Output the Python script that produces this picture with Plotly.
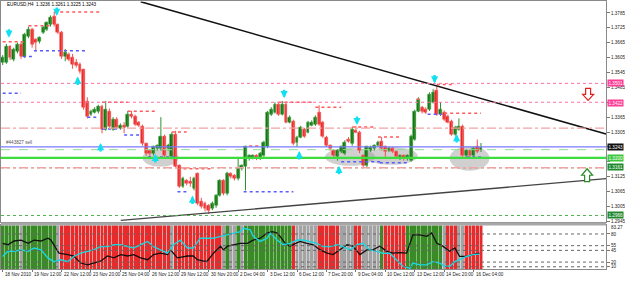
import plotly.graph_objects as go

# ---------------- data ----------------
open_ = [
1.3585,1.3585,1.3649,1.3597,1.3629,1.3657,1.3609,1.3689,1.3717,1.3677,
1.3669,1.3705,1.3717,1.3737,1.3769,1.3737,1.3705,1.3609,1.3617,1.3605,
1.3585,1.3577,1.3557,1.3429,1.3377,1.3385,1.3389,1.3409,1.3317,1.3389,
1.3317,1.3357,1.3321,1.3333,1.3329,1.3377,1.3369,1.3345,1.3329,1.3257,
1.3229,1.3217,1.3237,1.3237,1.3289,1.3237,1.3205,1.3297,1.3169,1.3085,
1.3109,1.3105,1.3077,1.3137,1.3025,1.3017,1.3009,1.2997,1.3009,1.3049,
1.3109,1.3057,1.3137,1.3129,1.3117,1.3157,1.3165,1.3197,1.3201,1.3209,
1.3197,1.3209,1.3245,1.3377,1.3385,1.3417,1.3377,1.3417,1.3345,1.3349,
1.3265,1.3285,1.3317,1.3305,1.3333,1.3337,1.3385,1.3345,1.3285,1.3249,
1.3229,1.3205,1.3225,1.3217,1.3277,1.3257,1.3313,1.3305,1.3209,1.3169,
1.3229,1.3237,1.3249,1.3269,1.3245,1.3229,1.3237,1.3225,1.3197,1.3209,
1.3197,1.3189,1.3277,1.3389,1.3405,1.3397,1.3397,1.3425,1.3473,1.3377,
1.3385,1.3369,1.3349,1.3297,1.3317,1.3329,1.3209,1.3229,1.3209,1.3245,
1.3236]
close = [
1.3605,1.3649,1.3605,1.3637,1.3657,1.3609,1.3697,1.3717,1.3657,1.3665,
1.3685,1.3725,1.3745,1.3765,1.3737,1.3705,1.3609,1.3625,1.3597,1.3577,
1.3573,1.3549,1.3405,1.3369,1.3389,1.3397,1.3409,1.3317,1.3397,1.3329,
1.3357,1.3325,1.3333,1.3325,1.3377,1.3369,1.3337,1.3333,1.3257,1.3217,
1.3217,1.3245,1.3249,1.3289,1.3209,1.3249,1.3297,1.3165,1.3085,1.3117,
1.3097,1.3097,1.3117,1.3017,1.3005,1.2997,1.2989,1.3017,1.3049,1.3109,
1.3057,1.3137,1.3125,1.3117,1.3157,1.3169,1.3245,1.3209,1.3209,1.3197,
1.3217,1.3265,1.3385,1.3397,1.3417,1.3377,1.3417,1.3345,1.3365,1.3257,
1.3285,1.3325,1.3289,1.3345,1.3345,1.3365,1.3337,1.3289,1.3249,1.3237,
1.3209,1.3229,1.3245,1.3265,1.3269,1.3317,1.3305,1.3229,1.3169,1.3245,
1.3241,1.3249,1.3265,1.3237,1.3225,1.3237,1.3225,1.3205,1.3209,1.3197,
1.3209,1.3289,1.3389,1.3437,1.3389,1.3385,1.3457,1.3465,1.3377,1.3397,
1.3357,1.3345,1.3297,1.3325,1.3329,1.3209,1.3229,1.3209,1.3237,1.3225,
1.3243]
high = [
1.3615,1.3660,1.3655,1.3645,1.3665,1.3668,1.3705,1.3730,1.3725,1.3683,
1.3690,1.3733,1.3750,1.3775,1.3789,1.3742,1.3712,1.3640,1.3625,1.3620,
1.3600,1.3585,1.3560,1.3445,1.3395,1.3405,1.3415,1.3415,1.3430,1.3400,
1.3365,1.3365,1.3340,1.3345,1.3390,1.3390,1.3375,1.3350,1.3335,1.3262,
1.3237,1.3250,1.3255,1.3365,1.3295,1.3258,1.3305,1.3310,1.3175,1.3125,
1.3115,1.3125,1.3125,1.3142,1.3040,1.3025,1.3015,1.3025,1.3055,1.3115,
1.3115,1.3145,1.3142,1.3135,1.3205,1.3175,1.3250,1.3215,1.3215,1.3215,
1.3225,1.3270,1.3390,1.3405,1.3425,1.3425,1.3430,1.3422,1.3372,1.3355,
1.3290,1.3330,1.3322,1.3350,1.3352,1.3372,1.3413,1.3350,1.3290,1.3255,
1.3235,1.3235,1.3250,1.3272,1.3285,1.3325,1.3330,1.3310,1.3215,1.3250,
1.3250,1.3255,1.3270,1.3285,1.3250,1.3245,1.3245,1.3230,1.3215,1.3215,
1.3215,1.3295,1.3395,1.3445,1.3410,1.3405,1.3465,1.3478,1.3490,1.3425,
1.3392,1.3375,1.3355,1.3330,1.3360,1.3335,1.3235,1.3235,1.3245,1.3275,
1.3261]
low = [
1.3575,1.3580,1.3595,1.3590,1.3622,1.3600,1.3603,1.3683,1.3645,1.3630,
1.3662,1.3700,1.3712,1.3730,1.3730,1.3700,1.3600,1.3590,1.3590,1.3560,
1.3565,1.3540,1.3395,1.3360,1.3370,1.3380,1.3380,1.3300,1.3310,1.3320,
1.3310,1.3318,1.3315,1.3300,1.3322,1.3360,1.3330,1.3325,1.3250,1.3210,
1.3205,1.3210,1.3230,1.3230,1.3200,1.3230,1.3195,1.3160,1.3080,1.3080,
1.3090,1.3085,1.3070,1.3010,1.2997,1.2985,1.2975,1.2990,1.3000,1.3045,
1.3050,1.3050,1.3118,1.3110,1.3110,1.3150,1.3070,1.3190,1.3195,1.3192,
1.3192,1.3205,1.3240,1.3370,1.3380,1.3370,1.3372,1.3340,1.3340,1.3252,
1.3245,1.3280,1.3282,1.3300,1.3328,1.3330,1.3330,1.3282,1.3245,1.3230,
1.3200,1.3190,1.3220,1.3212,1.3262,1.3250,1.3300,1.3220,1.3160,1.3160,
1.3225,1.3230,1.3245,1.3230,1.3205,1.3225,1.3220,1.3200,1.3192,1.3190,
1.3190,1.3185,1.3270,1.3385,1.3380,1.3378,1.3390,1.3420,1.3370,1.3370,
1.3350,1.3340,1.3290,1.3290,1.3310,1.3205,1.3205,1.3200,1.3202,1.3220,
1.3225]

time_labels = ["18 Nov 2010", "19 Nov 12:00", "22 Nov 12:00", "23 Nov 20:00", "25 Nov 04:00",
               "26 Nov 12:00", "29 Nov 12:00", "30 Nov 20:00", "2 Dec 04:00", "3 Dec 12:00",
               "6 Dec 12:00", "7 Dec 20:00", "9 Dec 04:00", "10 Dec 12:00", "13 Dec 12:00",
               "14 Dec 20:00", "16 Dec 04:00"]
time_label_bars = [0, 8, 16, 24, 32, 40, 48, 56, 64, 72, 80, 88, 96, 104, 112, 120, 128]

price_ticks = [1.3785, 1.3725, 1.3665, 1.3605, 1.3545, 1.3485, 1.3425, 1.3365, 1.3305,
               1.3245, 1.3185, 1.3125, 1.3065, 1.3005, 1.2945]
price_tick_text = ["1.3785", "1.3725", "1.3665", "1.3605", "1.3545", "1.3485", "", "1.3365",
                   "1.3305", "", "", "1.3125", "1.3065", "1.3005", "1.2945"]

# trend lines (bar index, price)
upper_trend_x = [37.5, 164.0]
upper_trend_p = [1.3830, 1.3297]
lower_trend_x = [32.1, 164.0]
lower_trend_p = [1.2949, 1.3117]

# horizontal levels
level_prices = [1.3501, 1.3425, 1.3321, 1.3245, 1.3234, 1.3201, 1.3161, 1.3161, 1.2969]
level_kinds = ["pink", "pink", "salmon", "blue", "lgreen", "green", "gdot", "salmon", "gdot"]

# right-axis price boxes
box_prices = [1.3501, 1.3422, 1.3245, 1.3201, 1.3166, 1.2969]
box_texts = ["1.3501", "1.3422", "1.3243", "1.3200", "1.3161", "1.2966"]
box_kinds = ["pink", "pink", "black", "green", "dgreen", "dgreen"]

# resistance (red dotted) / support (blue dotted) segments
res_x0 = [14, 7, 0, 27, 34, 46, 47.5, 67, 75, 85, 95, 102, 112.5, 120, 118]
res_x1 = [27, 13, 6, 34, 42, 50, 56.5, 70, 84, 92, 101, 108, 114, 130, 123]
res_p = [1.3789, 1.3733, 1.3669, 1.3425, 1.3389, 1.3305, 1.3157, 1.3249, 1.3425, 1.3405,
         1.3325, 1.3285, 1.3437, 1.3381, 1.3497]
sup_x0 = [8.5, 5.5, 0, 23, 27, 33, 39.5, 47.5, 65.5, 92, 102.5, 115.5, 126]
sup_x1 = [23, 8.2, 5, 26, 32, 37.5, 47.5, 50, 79, 103, 110.5, 119.5, 130]
sup_p = [1.3633, 1.3609, 1.3461, 1.3365, 1.3317, 1.3293, 1.3205, 1.3065, 1.3065, 1.3185,
         1.3181, 1.3377, 1.3205]

# cyan signal arrows (tip positions)
down_x = [1.7, 14.7, 76.5, 96.3, 117.4]
down_p = [1.3685, 1.3773, 1.3441, 1.3333, 1.3501]
up_x = [20.4, 26.6, 41.5, 51.6, 80.6, 91.4, 123.4]
up_p = [1.3529, 1.3261, 1.3217, 1.3049, 1.3229, 1.3169, 1.3297]

# grey ellipses (x0, x1, p0, p1)
ell_x0 = [38.0, 87.6, 98.4, 121.5]
ell_x1 = [47.8, 101.2, 112.8, 132.3]
ell_p0 = [1.3165, 1.3169, 1.3173, 1.3149]
ell_p1 = [1.3237, 1.3241, 1.3245, 1.3249]

# indicator window
state = list("GGGGG" + "N" + "GGGGGGGGG" + "N" + "R" * 30 + "N" + "R" * 13 + "N" + "G" + "NN" + "G" + "N"
             + "G" * 13 + "R" + "N" * 6 + "R" * 6 + "N" * 4 + "RR" + "N" * 5 + "G" + "R" * 6
             + "G" * 10 + "N" + "RRR" + "NN" + "R" * 5)
black_x = [0, 1.4, 3.1, 5, 6.9, 8.5, 10.4, 12.3, 13.1, 13.9, 15.3, 17.7, 19.3, 21.2, 23.1, 24.7, 26.6,
           28.5, 30.2, 32.1, 34, 35.6, 37.5, 39.4, 41, 42.9, 44.8, 45.6, 47.5, 50.2, 51.8, 52.9, 54.6,
           55.6, 57.3, 59.2, 60, 61.1, 62.7, 64.6, 66.5, 68.1, 70, 71.9, 73.3, 74.6, 75.4, 76.8, 78.1,
           79.5, 80.8, 82.7, 84.4, 86.3, 88.2, 89.8, 91.7, 93.6, 95.2, 97.1, 99, 100.6, 102.5, 104.4,
           106, 107.9, 109.8, 111.5, 113.4, 115.3, 116.6, 118, 119.6, 121.5, 122.9, 124.2, 126.1,
           127.7, 129.6]
black_v = [60, 57, 65, 67, 60, 67, 65, 71, 67, 57, 39, 36, 33, 18, 14, 18, 22, 33, 29, 36, 33, 36, 29,
           25, 36, 39, 36, 46, 29, 33, 33, 25, 22, 22, 39, 54, 46, 54, 57, 60, 60, 67, 71, 82, 85, 82,
           75, 60, 54, 60, 64, 60, 57, 46, 39, 36, 46, 57, 54, 36, 46, 46, 54, 43, 39, 40, 39, 78, 78,
           75, 82, 60, 54, 43, 50, 32, 32, 36, 39]
cyan_x = [0, 1.4, 3.1, 5, 6.9, 8.5, 10.4, 12.3, 13.9, 15.8, 17.7, 19.3, 21.2, 23.1, 24.7, 26.6, 28.5,
          30.2, 32.1, 34, 35.6, 37.5, 39.4, 41, 42.9, 44.8, 46.4, 48.3, 50.2, 51.8, 53.7, 55.6, 57.3,
          59.2, 61.1, 62.7, 64.6, 65.4, 67.3, 68.1, 70, 71.9, 72.7, 74.6, 76.2, 78.1, 80, 81.7, 83.6,
          85.4, 87.1, 89, 90.9, 92.5, 94.4, 96.3, 97.9, 99.8, 101.7, 103.3, 105.2, 107.1, 108.8,
          110.7, 111.5, 113.4, 115.3, 116.9, 118.8, 120.1, 121.5, 122.9, 124.7, 126.1, 127.7, 129.6]
cyan_v = [32, 43, 43, 46, 43, 50, 46, 29, 21, 25, 21, 32, 39, 43, 46, 53, 53, 57, 57, 53, 50, 57, 64,
          53, 46, 39, 57, 67, 50, 50, 71, 71, 71, 75, 78, 82, 85, 92, 89, 75, 64, 71, 82, 67, 57, 60,
          67, 67, 64, 60, 53, 53, 57, 53, 46, 57, 60, 46, 43, 39, 39, 25, 11, 7, 18, 14, 14, 21, 18,
          11, 11, 21, 28, 32, 36, 37]
ind_levels = [80, 55, 45, 20, 10]
ind_level_text = ["80", "55", "45", "20", "10"]
ind_top_text = "83.27"

# ---------------- geometry ----------------
W, H = 625, 282
def py(px):
    return (H - px) / H

XR = [-0.46, 164.0]
XD = [0, 607 / W]
Y_MAIN = [1.2943, 1.3831]
Y_IND = [5.1, 98.3]
FONT = "Liberation Sans"
FS = 4.6

fig = go.Figure()

n = len(open_)
idx = list(range(n))
up = [i for i in idx if close[i] >= open_[i]]
dn = [i for i in idx if close[i] < open_[i]]

def wick_xy(ids):
    xs, ys = [], []
    for i in ids:
        xs += [i, i, None]
        ys += [low[i], high[i], None]
    return xs, ys

for ids, wc in ((up, "#2f8f2f"), (dn, "#f05050")):
    wx, wy = wick_xy(ids)
    fig.add_trace(go.Scatter(x=wx, y=wy, mode="lines", line=dict(color=wc, width=1),
                             hoverinfo="skip", showlegend=False))

fig.add_trace(go.Bar(x=up, y=[close[i] - open_[i] for i in up], base=[open_[i] for i in up],
                     width=0.78, marker=dict(color="#127012", line=dict(color="#3da03d", width=0.6)),
                     hoverinfo="skip", showlegend=False))
fig.add_trace(go.Bar(x=dn, y=[open_[i] - close[i] for i in dn], base=[close[i] for i in dn],
                     width=0.78, marker=dict(color="#ec2424", line=dict(color="#f25a5a", width=0.6)),
                     hoverinfo="skip", showlegend=False))

def segs(x0, x1, p):
    xs, ys = [], []
    for a, b, c in zip(x0, x1, p):
        xs += [a, b, None]
        ys += [c, c, None]
    return xs, ys

sx, sy = segs(res_x0, res_x1, res_p)
fig.add_trace(go.Scatter(x=sx, y=sy, mode="lines", line=dict(color="#ff5a5a", width=1.5, dash="dot"),
                         hoverinfo="skip", showlegend=False))
sx, sy = segs(sup_x0, sup_x1, sup_p)
fig.add_trace(go.Scatter(x=sx, y=sy, mode="lines", line=dict(color="#5a5aff", width=1.5, dash="dot"),
                         hoverinfo="skip", showlegend=False))

fig.add_trace(go.Scatter(x=upper_trend_x, y=upper_trend_p, mode="lines",
                         line=dict(color="#111111", width=1.6), hoverinfo="skip", showlegend=False))
fig.add_trace(go.Scatter(x=lower_trend_x, y=lower_trend_p, mode="lines",
                         line=dict(color="#444444", width=1.3), hoverinfo="skip", showlegend=False))

# indicator
scol = {"G": ("#7fbf6f", "#3a8a28"), "R": ("#f59a9a", "#e82a2a"), "N": ("#cfcfcf", "#a3a3a3")}
fig.add_trace(go.Bar(x=idx, y=[Y_IND[1] - Y_IND[0]] * n, base=Y_IND[0], width=1.0,
                     marker=dict(color=[scol[s][0] for s in state], line=dict(width=0)),
                     xaxis="x2", yaxis="y2", hoverinfo="skip", showlegend=False))
fig.add_trace(go.Bar(x=idx, y=[Y_IND[1] - Y_IND[0]] * n, base=Y_IND[0], width=0.78,
                     marker=dict(color=[scol[s][1] for s in state], line=dict(width=0)),
                     xaxis="x2", yaxis="y2", hoverinfo="skip", showlegend=False))
fig.add_trace(go.Scatter(x=black_x, y=black_v, mode="lines", line=dict(color="#111111", width=1.3),
                         xaxis="x2", yaxis="y2", hoverinfo="skip", showlegend=False))
fig.add_trace(go.Scatter(x=cyan_x, y=cyan_v, mode="lines", line=dict(color="#1ad6e0", width=1.4),
                         xaxis="x2", yaxis="y2", hoverinfo="skip", showlegend=False))

shapes = []
for a, b, c, d in zip(ell_x0, ell_x1, ell_p0, ell_p1):
    shapes.append(dict(type="circle", xref="x", yref="y", x0=a, x1=b, y0=c, y1=d,
                       fillcolor="rgba(150,150,150,0.45)", line=dict(width=0), layer="below"))
lstyle = {
    "pink": dict(color="#ff6fa8", width=1, dash="dot"),
    "salmon": dict(color="#f3a3a3", width=1.4, dash="dashdot"),
    "blue": dict(color="#7a7aff", width=1.3),
    "lgreen": dict(color="#8fdc8f", width=1, dash="dash"),
    "green": dict(color="#3ddc3d", width=2.2),
    "gdot": dict(color="#4caf4c", width=1, dash="dot"),
}
for p, k in zip(level_prices, level_kinds):
    shapes.append(dict(type="line", xref="x domain", yref="y", x0=0, x1=1, y0=p, y1=p,
                       line=lstyle[k], layer="above"))
for v in ind_levels:
    shapes.append(dict(type="line", xref="x2 domain", yref="y2", x0=0, x1=1, y0=v, y1=v,
                       line=dict(color="#666666", width=1, dash="dot"), layer="above"))
shapes.append(dict(type="rect", xref="paper", yref="paper", x0=0, x1=XD[1], y0=py(227), y1=py(224),
                   fillcolor="#a8a8a8", line=dict(width=0)))

def ppx(x):
    return x / W

def arrow_path(cx, top, bottom, down=True):
    mid = top + (bottom - top) * 0.5
    if down:
        pts = [(cx - 2.5, top), (cx + 2.5, top), (cx + 2.5, mid), (cx + 5.5, mid), (cx, bottom),
               (cx - 5.5, mid), (cx - 2.5, mid)]
    else:
        pts = [(cx - 2.5, bottom), (cx + 2.5, bottom), (cx + 2.5, mid), (cx + 5.5, mid), (cx, top),
               (cx - 5.5, mid), (cx - 2.5, mid)]
    return "M " + " L ".join("%.4f,%.4f" % (ppx(x), py(y)) for x, y in pts) + " Z"

shapes.append(dict(type="path", xref="paper", yref="paper", path=arrow_path(589, 89, 101, True),
                   fillcolor="white", line=dict(color="#e02020", width=1.2)))
shapes.append(dict(type="path", xref="paper", yref="paper", path=arrow_path(588, 170, 183, False),
                   fillcolor="white", line=dict(color="#2a8a2a", width=1.2)))

ann = []
ann.append(dict(xref="paper", yref="paper", x=4 / W, y=py(5), xanchor="left", yanchor="middle",
                text="EURUSD,H4  1.3236 1.3261 1.3225 1.3243", showarrow=False,
                font=dict(size=FS, color="#000000", family=FONT)))
ann.append(dict(xref="x", yref="y", x=0.3, y=1.3245, xanchor="left", yanchor="bottom",
                text="#443827 sell", showarrow=False,
                font=dict(size=FS, color="#555555", family=FONT)))
bcol = {"pink": "#ff3d96", "black": "#111111", "green": "#3cc83c", "dgreen": "#1f8a2f"}
for p, t, k in zip(box_prices, box_texts, box_kinds):
    ann.append(dict(xref="paper", yref="y", x=608 / W, y=p, xanchor="left", yanchor="middle",
                    text=t, showarrow=False, bgcolor=bcol[k], borderpad=0.5,
                    font=dict(size=FS, color="#ffffff", family=FONT)))
for x, p in zip(down_x, down_p):
    ann.append(dict(xref="x", yref="y", x=x, y=p, ax=0, ay=-10, text="", showarrow=True,
                    arrowhead=2, arrowsize=0.6, arrowwidth=2.4, arrowcolor="#10e0f0", standoff=0))
for x, p in zip(up_x, up_p):
    ann.append(dict(xref="x", yref="y", x=x, y=p, ax=0, ay=10, text="", showarrow=True,
                    arrowhead=2, arrowsize=0.6, arrowwidth=2.4, arrowcolor="#10e0f0", standoff=0))
for b, t in zip(time_label_bars, time_labels):
    ann.append(dict(xref="x2", yref="paper", x=b, y=py(276.5), xanchor="left", yanchor="middle",
                    text=t, showarrow=False, font=dict(size=FS, color="#222222", family=FONT)))
ann.append(dict(xref="paper", yref="paper", x=610 / W, y=py(229.5), xanchor="left", yanchor="middle",
                text=ind_top_text, showarrow=False, font=dict(size=FS, color="#222222", family=FONT)))

axcommon = dict(showgrid=False, zeroline=False, showline=True, linecolor="#8a8a8a", linewidth=1,
                mirror=True)
fig.update_layout(
    width=W, height=H, margin=dict(l=0, r=0, t=0, b=0),
    paper_bgcolor="white", plot_bgcolor="white", barmode="overlay", bargap=0,
    shapes=shapes, annotations=ann,
    xaxis=dict(domain=XD, range=XR, anchor="y", showticklabels=False, ticks="", **axcommon),
    yaxis=dict(domain=[py(223.5), py(1.5)], range=Y_MAIN, side="right", anchor="x",
               tickvals=price_ticks, ticktext=price_tick_text,
               ticks="outside", ticklen=3, tickcolor="#777777",
               tickfont=dict(size=FS, color="#222222", family=FONT), **axcommon),
    xaxis2=dict(domain=XD, range=XR, anchor="y2", showticklabels=False, ticks="outside",
                ticklen=2, tickcolor="#777777", tickvals=time_label_bars, **axcommon),
    yaxis2=dict(domain=[py(271), py(227)], range=Y_IND, side="right", anchor="x2",
                tickvals=ind_levels, ticktext=ind_level_text, ticks="outside", ticklen=3,
                tickcolor="#777777", tickfont=dict(size=FS, color="#222222", family=FONT),
                **axcommon),
    font=dict(family=FONT, size=FS),
)

fig.write_html("out.html")
